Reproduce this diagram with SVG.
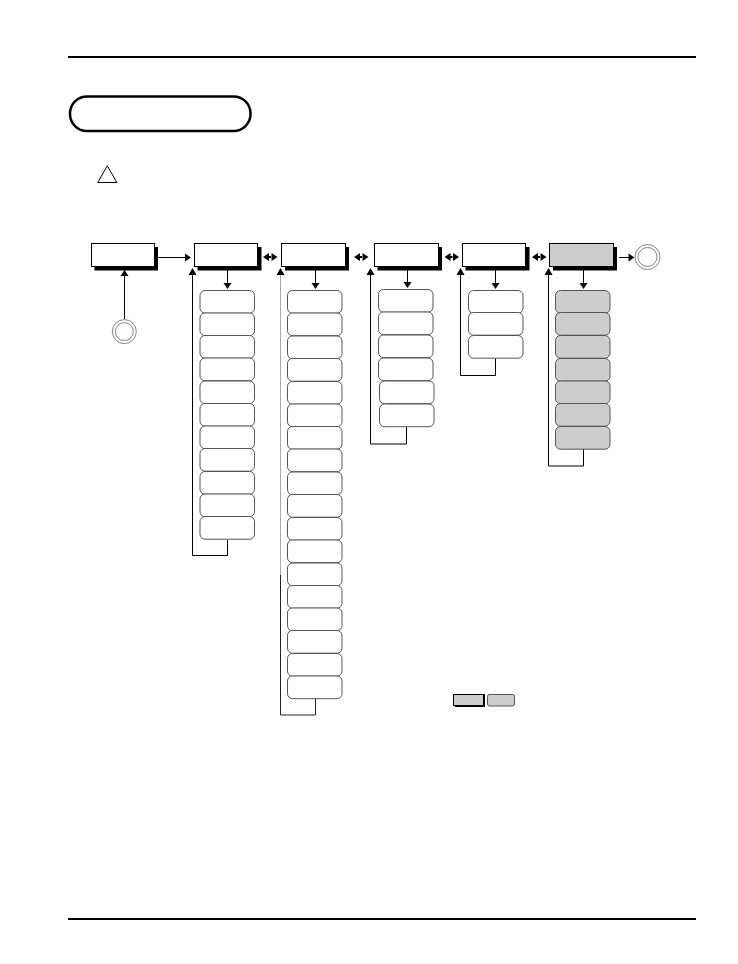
<svg xmlns="http://www.w3.org/2000/svg" width="738" height="964" viewBox="0 0 738 964">
<style>
.rule{fill:none;stroke:#000;stroke-width:2}
.head{fill:#fff;stroke:#000;stroke-width:1}
.shade{fill:#000;stroke:none}
.gray{fill:#cdcdcd}
.item{fill:#fff;stroke:#555;stroke-width:1}
.itemg{fill:#cdcdcd;stroke:#555;stroke-width:1}
.ln{fill:none;stroke:#000;stroke-width:1}
.ar{fill:#000;stroke:none}
.ring{fill:#fff;stroke:#666;stroke-width:.8}
</style>
<defs>
<g id="dbl"><path class="ar" d="M0 0l6-4v3h2v2h-2v3zM14.500 0l-6-4v8z"/></g>
<rect id="it" x="0" y="0" width="54.500" height="22.700" rx="5" ry="5"/>
</defs>
<rect width="738" height="964" fill="#fff"/>
<g id="page-rules">
<line class="rule" x1="68" y1="57" x2="696" y2="57"/>
<line class="rule" x1="68" y1="919" x2="696" y2="919"/>
</g>
<g id="title-pill"><rect x="70" y="96.500" width="180.500" height="34.500" rx="17" ry="17" fill="#fff" stroke="#000" stroke-width="2.500"/></g>
<g id="warning"><path d="M107.300 165.800L97.700 182.500H116.900Z" fill="#fff" stroke="#000" stroke-width="1"/></g>
<g id="connectors">
<path class="ln" d="M158 257.500H186"/><path class="ar" d="M191 257.500l-6-4v8z"/>
<path class="ln" d="M124.500 319V276"/><path class="ar" d="M124.500 270l-4 6h8z"/>
<path class="ln" d="M227.500 270V285"/><path class="ar" d="M227.500 289l-4-6h8z"/>
<path class="ln" d="M315.500 270V285"/><path class="ar" d="M315.500 289l-4-6h8z"/>
<path class="ln" d="M407.500 270V284"/><path class="ar" d="M407.500 288l-4-6h8z"/>
<path class="ln" d="M495.500 270V285"/><path class="ar" d="M495.500 289l-4-6h8z"/>
<path class="ln" d="M583.500 270V285"/><path class="ar" d="M583.500 289l-4-6h8z"/>
<path class="ln" d="M619 257.500H629"/><path class="ar" d="M634.500 257.500l-6-4v8z"/>
<use href="#dbl" x="263" y="257"/><use href="#dbl" x="354" y="257"/><use href="#dbl" x="444.500" y="257"/><use href="#dbl" x="532" y="257"/>
<path class="ln" d="M227.500 540V555.500H192.500V274"/><path class="ar" d="M192.500 268l-4 7h8z"/>
<path d="M280.500 274V575" fill="none" stroke="#aaa" stroke-width="1"/>
<path d="M315.500 699V715H280.500V575" fill="none" stroke="#222" stroke-width="1"/><path class="ar" d="M280.500 268l-4 7h8z"/>
<path class="ln" d="M406.500 427V444H370.500V274"/><path class="ar" d="M370.500 268l-4 7h8z"/>
<path class="ln" d="M495.500 358V375.500H460.500V274"/><path class="ar" d="M460.500 268l-4 7h8z"/>
<path class="ln" d="M583.500 449V466H548.500V274"/><path class="ar" d="M548.500 268l-4 7h8z"/>
</g>
<g id="head-1"><rect class="shade" x="94.500" y="247" width="63.500" height="23.500"/><rect class="head" x="91.500" y="243.500" width="63" height="23"/></g>
<g id="head-2"><rect class="shade" x="197.500" y="247" width="64" height="23.500"/><rect class="head" x="194.500" y="243.500" width="63" height="23"/></g>
<g id="head-3"><rect class="shade" x="285" y="247" width="64" height="23.500"/><rect class="head" x="281.500" y="243.500" width="64" height="23"/></g>
<g id="head-4"><rect class="shade" x="377.500" y="247" width="64.500" height="23.500"/><rect class="head" x="374.500" y="243.500" width="64" height="23"/></g>
<g id="head-5"><rect class="shade" x="465.500" y="247" width="64" height="23.500"/><rect class="head" x="462.500" y="243.500" width="63" height="23"/></g>
<g id="head-6"><rect class="shade" x="553" y="247" width="64" height="23.500"/><rect class="head gray" x="549.500" y="243.500" width="64" height="23"/></g>
<g id="start-ring"><circle class="ring" cx="124.300" cy="331.600" r="12"/><circle class="ring" cx="124.300" cy="331.600" r="9"/></g>
<g id="end-ring"><circle class="ring" cx="647.500" cy="257" r="12.500"/><circle class="ring" cx="647.500" cy="257" r="9.500"/></g>
<g id="stack-1" class="item">
<use href="#it" x="200" y="290.500"/><use href="#it" x="200" y="313"/><use href="#it" x="200" y="335.500"/><use href="#it" x="200" y="358"/><use href="#it" x="200" y="381"/><use href="#it" x="200" y="403.500"/><use href="#it" x="200" y="426"/><use href="#it" x="200" y="448.500"/><use href="#it" x="200" y="471.500"/><use href="#it" x="200" y="494"/><use href="#it" x="200" y="516.500"/>
</g>
<g id="stack-2" class="item">
<use href="#it" x="287.500" y="290.500"/><use href="#it" x="287.500" y="313"/><use href="#it" x="287.500" y="336"/><use href="#it" x="287.500" y="358.500"/><use href="#it" x="287.500" y="381.500"/><use href="#it" x="287.500" y="404"/><use href="#it" x="287.500" y="426.500"/><use href="#it" x="287.500" y="449"/><use href="#it" x="287.500" y="472"/><use href="#it" x="287.500" y="494.500"/><use href="#it" x="287.500" y="517.500"/><use href="#it" x="287.500" y="540"/><use href="#it" x="287.500" y="563"/><use href="#it" x="287.500" y="585.500"/><use href="#it" x="287.500" y="608"/><use href="#it" x="287.500" y="630.500"/><use href="#it" x="287.500" y="653.500"/><use href="#it" x="287.500" y="676"/>
</g>
<g id="stack-3" class="item">
<use href="#it" x="378.500" y="289.500"/><use href="#it" x="378.500" y="312"/><use href="#it" x="378.500" y="335"/><use href="#it" x="378.500" y="358"/><use href="#it" x="379.500" y="381"/><use href="#it" x="379.500" y="404"/>
</g>
<g id="stack-4" class="item">
<use href="#it" x="468.500" y="290.500"/><use href="#it" x="468.500" y="312.500"/><use href="#it" x="468.500" y="335.500"/>
</g>
<g id="stack-5" class="itemg">
<use href="#it" x="555.500" y="290.500"/><use href="#it" x="555.500" y="312.500"/><use href="#it" x="555.500" y="335.500"/><use href="#it" x="555.500" y="358.500"/><use href="#it" x="555.500" y="381"/><use href="#it" x="555.500" y="403.500"/><use href="#it" x="555.500" y="426.500"/>
</g>
<g id="legend-button"><rect class="shade" x="455" y="694" width="30" height="13"/><rect class="head gray" x="453.500" y="694.500" width="30" height="11"/></g>
<g id="legend-item"><rect x="487.500" y="694.500" width="27" height="11.500" rx="2" ry="2" class="itemg"/></g>
</svg>
